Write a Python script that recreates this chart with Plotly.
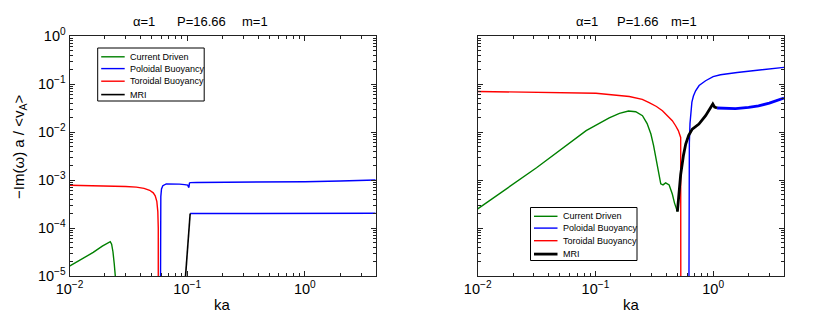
import plotly.graph_objects as go

# ---- left panel: alpha=1, P=16.66, m=1 ----
L_CD_KA = [0.01, 0.0125, 0.0159, 0.019, 0.021, 0.0222, 0.0228, 0.0234, 0.024, 0.0245, 0.0248]
L_CD_GR = [1.6e-5, 2.2e-5, 3.1e-5, 4.2e-5, 4.9e-5, 5.2e-5, 4.6e-5, 3.2e-5, 1.8e-5, 1.0e-5, 1e-7]

L_TB_KA = [0.01, 0.02, 0.03, 0.037, 0.043, 0.048, 0.0515, 0.0535, 0.0552, 0.0563, 0.0568, 0.0568]
L_TB_GR = [7.8e-4, 7.6e-4, 7.3e-4, 7.1e-4, 6.7e-4, 6.1e-4, 5.4e-4, 4.7e-4, 3.6e-4, 2.2e-4, 1.0e-4, 1e-7]

L_PB1_KA = [0.059, 0.0592, 0.0597, 0.0605, 0.0621, 0.0664, 0.075, 0.0859, 0.095, 0.101,
            0.1025, 0.1035, 0.1045, 0.106, 0.12, 0.3, 0.6, 1.0, 2.0, 4.0]
L_PB1_GR = [1e-7, 1e-4, 4.5e-4, 6.5e-4, 7.6e-4, 8.3e-4, 8.3e-4, 8.2e-4, 8.0e-4, 7.8e-4,
            7.2e-4, 7.0e-4, 8.6e-4, 8.8e-4, 8.9e-4, 8.9e-4, 9.0e-4, 9.2e-4, 9.5e-4, 1.0e-3]
L_PB2_KA = [0.106, 0.3, 1.0, 4.0]
L_PB2_GR = [2.0e-4, 2.0e-4, 2.0e-4, 2.03e-4]

L_MRI_KA = [0.0962, 0.1045, 0.106]
L_MRI_GR = [8e-6, 2.0e-4, 2.0e-4]

# ---- right panel: alpha=1, P=1.66, m=1 ----
R_CD_KA = [0.01, 0.0316, 0.0834, 0.131, 0.16, 0.191, 0.22, 0.251, 0.275, 0.296, 0.312, 0.326,
           0.342, 0.359, 0.375, 0.395, 0.423, 0.45, 0.47, 0.497]
R_CD_GR = [2.5e-4, 1.8e-3, 1.07e-2, 1.96e-2, 2.45e-2, 2.74e-2, 2.65e-2, 2.19e-2, 1.5e-2, 9.1e-3,
           5.2e-3, 2.96e-3, 1.5e-3, 8.3e-4, 7.9e-4, 8.7e-4, 7.9e-4, 5.1e-4, 3.3e-4, 2.2e-4]

R_TB_KA = [0.01, 0.0316, 0.101, 0.194, 0.25, 0.286, 0.33, 0.371, 0.41, 0.45, 0.48, 0.506, 0.53, 0.532]
R_TB_GR = [7.0e-2, 6.8e-2, 6.4e-2, 5.5e-2, 4.8e-2, 4.1e-2, 3.4e-2, 2.78e-2, 2.2e-2, 1.72e-2,
           1.35e-2, 1.07e-2, 7.7e-3, 1e-7]

R_PB1_KA = [0.62, 0.622, 0.628, 0.636, 0.645, 0.66, 0.68, 0.71, 0.76, 0.863, 1.0, 1.155, 1.6, 2.14, 3.0, 4.0]
R_PB1_GR = [1e-7, 1.0e-3, 6.0e-3, 1.5e-2, 2.8e-2, 4.2e-2, 5.6e-2, 7.2e-2, 9.3e-2, 0.117, 0.142,
            0.156, 0.174, 0.189, 0.205, 0.222]
R_PB2_KA = [1.08, 1.3, 1.55, 2.0, 2.43, 3.0, 3.83, 4.0]
R_PB2_GR = [3.16e-2, 3.08e-2, 3.06e-2, 3.25e-2, 3.5e-2, 4.0e-2, 4.9e-2, 5.1e-2]

R_MRI_KA = [0.497, 0.53, 0.56, 0.585, 0.62, 0.665, 0.757, 0.863, 0.994, 1.03, 1.08]
R_MRI_GR = [2.2e-4, 1.3e-3, 3.3e-3, 5.6e-3, 8.5e-3, 1.15e-2, 1.46e-2, 2.19e-2, 3.83e-2, 3.3e-2, 3.16e-2]

LEGEND_NAMES = ["Current Driven", "Poloidal Buoyancy", "Toroidal Buoyancy", "MRI"]
COLORS = ["#008000", "#0000FF", "#FF0000", "#000000"]
TITLE_PARTS = [["α=1", "P=16.66", "m=1"], ["α=1", "P=1.66", "m=1"]]
X_TICKS = [0.01, 0.1, 1]
X_TICKTEXT = ["10<sup>−2</sup>", "10<sup>−1</sup>", "10<sup>0</sup>"]
Y_TICKS = [1e-5, 1e-4, 1e-3, 1e-2, 1e-1, 1]
Y_TICKTEXT = ["10<sup>−5</sup>", "10<sup>−4</sup>", "10<sup>−3</sup>",
              "10<sup>−2</sup>", "10<sup>−1</sup>", "10<sup>0</sup>"]

W, H = 817, 321
FONT = "Liberation Sans, Arial, Helvetica, sans-serif"


def px(x):
    return x / W


def py(y):
    return 1 - y / H


fig = go.Figure()

thin = 1.4
thick = 2.8

left = [
    (L_CD_KA, L_CD_GR, COLORS[0], thin),
    (L_PB1_KA, L_PB1_GR, COLORS[1], thin),
    (L_PB2_KA, L_PB2_GR, COLORS[1], thin),
    (L_TB_KA, L_TB_GR, COLORS[2], thin),
    (L_MRI_KA, L_MRI_GR, COLORS[3], 1.6),
]
right = [
    (R_CD_KA, R_CD_GR, COLORS[0], thin),
    (R_PB1_KA, R_PB1_GR, COLORS[1], thin),
    (R_PB2_KA, R_PB2_GR, COLORS[1], thick),
    (R_TB_KA, R_TB_GR, COLORS[2], thin),
    (R_MRI_KA, R_MRI_GR, COLORS[3], thick),
]

for ka, gr, c, w in left:
    fig.add_trace(go.Scatter(x=ka, y=gr, mode="lines", line=dict(color=c, width=w),
                             xaxis="x", yaxis="y", showlegend=False))
for ka, gr, c, w in right:
    fig.add_trace(go.Scatter(x=ka, y=gr, mode="lines", line=dict(color=c, width=w),
                             xaxis="x2", yaxis="y2", showlegend=False))

axis_common = dict(
    type="log", showline=True, linecolor="#222", linewidth=1, mirror="ticks",
    ticks="inside", ticklen=5, tickcolor="#222", showgrid=False, zeroline=False,
    automargin=False,
    minor=dict(ticks="inside", ticklen=3, tickcolor="#222", dtick="D1", showgrid=False),
    tickfont=dict(size=14.5, color="black", family=FONT),
)

ydom = [py(276), py(36)]
fig.update_layout(
    xaxis=dict(domain=[px(69.5), px(375.7)], range=[-2, 0.602], anchor="y",
               tickvals=X_TICKS, ticktext=X_TICKTEXT, **axis_common),
    yaxis=dict(domain=ydom, range=[-5, 0], anchor="x",
               tickvals=Y_TICKS, ticktext=Y_TICKTEXT, **axis_common),
    xaxis2=dict(domain=[px(477.7), px(784)], range=[-2, 0.602], anchor="y2",
                tickvals=X_TICKS, ticktext=X_TICKTEXT, **axis_common),
    yaxis2=dict(domain=ydom, range=[-5, 0], anchor="x2",
                tickvals=Y_TICKS, showticklabels=False, **axis_common),
)

annotations = []
shapes = []


def label(x, y, text, size, **kw):
    d = dict(x=px(x), y=py(y), xref="paper", yref="paper", text=text, showarrow=False,
             xanchor="center", yanchor="middle", font=dict(size=size, color="black", family=FONT))
    d.update(kw)
    annotations.append(d)


# panel titles and axis labels
for centers, parts in zip([[143.7, 201.7, 254.9], [587, 638.3, 684.2]], TITLE_PARTS):
    for cx, t in zip(centers, parts):
        label(cx, 21, t, 13)
for cx in [222, 631]:
    label(cx, 304, "ka", 15)
label(20, 147, "−Im(ω) a / &lt;v<sub>A</sub>&gt;", 15, textangle=-90)

# legends (one per panel)
for bx, by, widths in [(97.7, 48, [thin, thin, thin, 1.6]), (530.5, 207.5, [thin, thin, thin, thick])]:
    shapes.append(dict(type="rect", xref="paper", yref="paper",
                       x0=px(bx), x1=px(bx + 106.5), y0=py(by), y1=py(by + 53),
                       line=dict(color="black", width=1), fillcolor="white", layer="above"))
    rows = [8.8, 20.6, 33.2, 46.6]
    for name, c, w, dy in zip(LEGEND_NAMES, COLORS, widths, rows):
        shapes.append(dict(type="line", xref="paper", yref="paper",
                           x0=px(bx + 3.5), x1=px(bx + 27), y0=py(by + dy), y1=py(by + dy),
                           line=dict(color=c, width=w), layer="above"))
        label(bx + 30.5, by + dy, name, 9, xanchor="left")

fig.update_layout(
    width=W, height=H,
    margin=dict(l=0, r=0, t=0, b=0, autoexpand=False),
    paper_bgcolor="white", plot_bgcolor="white",
    font=dict(family=FONT, color="black"),
    annotations=annotations, shapes=shapes,
    showlegend=False,
)

fig.write_html("out.html", config={"displayModeBar": False},
               post_script="document.body.style.margin='0';")
